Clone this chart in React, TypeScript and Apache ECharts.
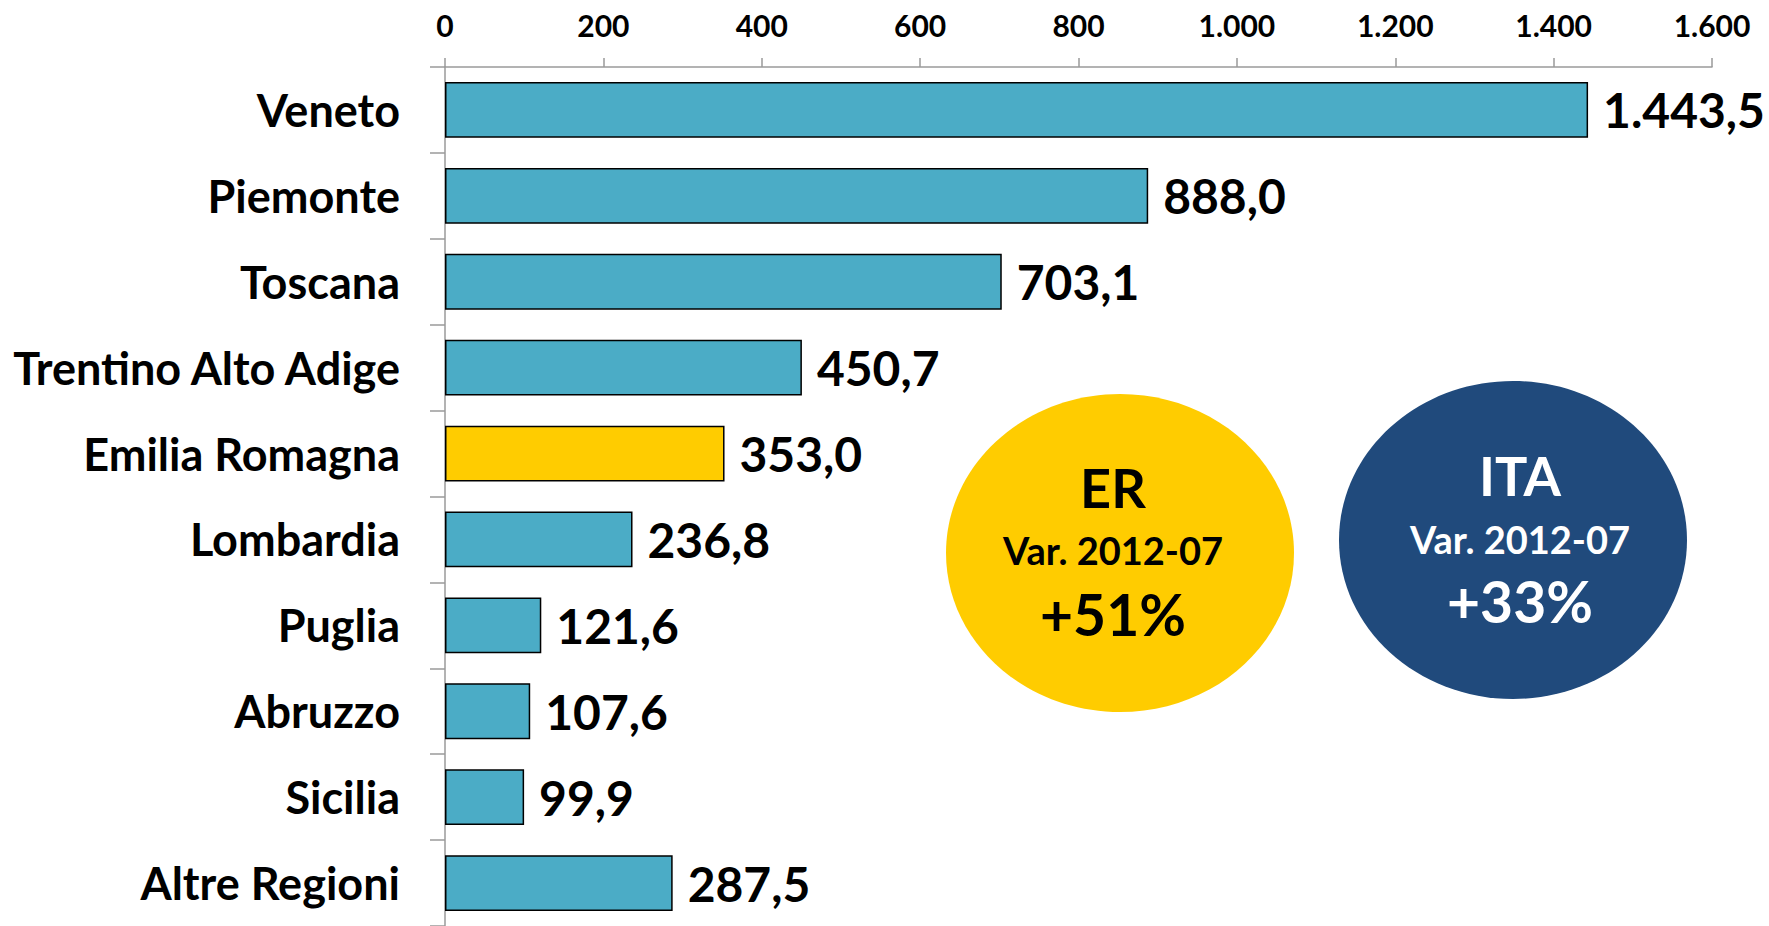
import React, { useEffect, useRef } from "react";
import * as echarts from "echarts";

const categories = [
  "Veneto",
  "Piemonte",
  "Toscana",
  "Trentino Alto Adige",
  "Emilia Romagna",
  "Lombardia",
  "Puglia",
  "Abruzzo",
  "Sicilia",
  "Altre Regioni",
];
const values = [1443.5, 888.0, 703.1, 450.7, 353.0, 236.8, 121.6, 107.6, 99.9, 287.5];
const highlighted = "Emilia Romagna";
const xTicks = [0, 200, 400, 600, 800, 1000, 1200, 1400, 1600];

const erTitle = "ER";
const erSub = "Var. 2012-07";
const erValue = "+51%";
const itaTitle = "ITA";
const itaSub = "Var. 2012-07";
const itaValue = "+33%";

const FONT = "Lato, 'Open Sans', sans-serif";
const BAR = "#4BACC6";
const YELLOW = "#FFCC00";
const NAVY = "#204A7C";

function itNumber(v: number, decimals: number): string {
  const fixed = v.toFixed(decimals);
  const [intPart, dec] = fixed.split(".");
  const withSep = intPart.replace(/\B(?=(\d{3})+(?!\d))/g, ".");
  return dec !== undefined ? withSep + "," + dec : withSep;
}

export default function App() {
  const ref = useRef<HTMLDivElement>(null);
  useEffect(() => {
    if (!ref.current) return;
    const chart = echarts.init(ref.current, undefined, { renderer: "svg" });
    const txt = (x: number, y: number, text: string, size: number, fill: string) => ({
      type: "text",
      x,
      y,
      style: {
        text,
        fill,
        fontSize: size,
        fontWeight: "bold",
        fontFamily: FONT,
        align: "center",
        verticalAlign: "middle",
        textAlign: "center",
        textVerticalAlign: "middle",
      },
    });
    chart.setOption({
      animation: false,
      grid: { left: 445, right: 57, top: 67, height: 860, containLabel: false },
      xAxis: {
        type: "value",
        position: "top",
        min: 0,
        max: 1600,
        interval: 200,
        axisLine: { show: true, lineStyle: { color: "#9a9a9a", width: 1.5 } },
        axisTick: { show: true, length: 9, lineStyle: { color: "#9a9a9a", width: 1.5 } },
        splitLine: { show: false },
        axisLabel: {
          margin: 27,
          color: "#000",
          fontFamily: FONT,
          fontWeight: "bold",
          fontSize: 30,
          formatter: (v: number) => (xTicks.includes(v) ? itNumber(v, 0) : ""),
        },
      },
      yAxis: {
        type: "category",
        inverse: true,
        data: categories,
        axisLine: { show: true, lineStyle: { color: "#9a9a9a", width: 1.5 } },
        axisTick: { show: true, length: 15, interval: 0, lineStyle: { color: "#9a9a9a", width: 1.5 } },
        axisLabel: {
          margin: 45,
          color: "#000",
          fontFamily: FONT,
          fontWeight: "bold",
          fontSize: 45,
          interval: 0,
        },
      },
      series: [
        {
          type: "bar",
          barCategoryGap: "35%",
          data: values.map((v, i) => ({
            value: v,
            itemStyle: { color: categories[i] === highlighted ? YELLOW : BAR },
          })),
          itemStyle: { borderColor: "#000", borderWidth: 1.5 },
          label: {
            show: true,
            position: "right",
            distance: 15,
            color: "#000",
            fontFamily: FONT,
            fontWeight: "bold",
            fontSize: 48,
            formatter: (p: any) => itNumber(p.value, 1),
          },
        },
      ],
      graphic: [
        { type: "ellipse", shape: { cx: 1120, cy: 553, rx: 174, ry: 159 }, style: { fill: YELLOW } },
        { type: "ellipse", shape: { cx: 1513, cy: 540, rx: 174, ry: 159 }, style: { fill: NAVY } },
        txt(1113, 487, erTitle, 54, "#000"),
        txt(1113, 550, erSub, 38, "#000"),
        txt(1113, 614, erValue, 57, "#000"),
        txt(1520, 475, itaTitle, 54, "#fff"),
        txt(1520, 539, itaSub, 38, "#fff"),
        txt(1520, 601, itaValue, 57, "#fff"),
      ],
    });
    return () => chart.dispose();
  }, []);
  return (
    <div
      ref={ref}
      style={{ position: "fixed", left: 0, top: 0, width: 1769, height: 926, background: "#fff" }}
    />
  );
}
